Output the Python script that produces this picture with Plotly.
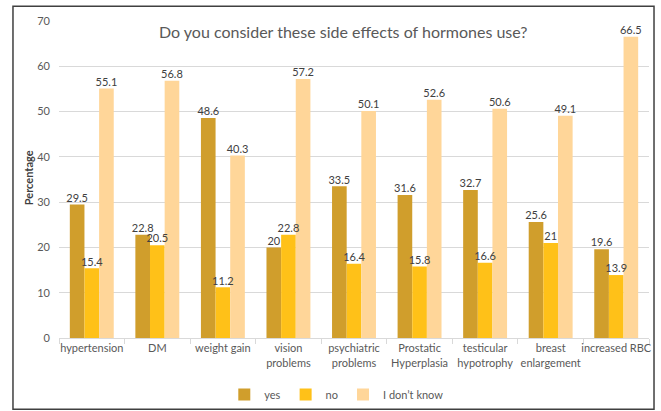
import plotly.graph_objects as go

categories = ["hypertension", "DM", "weight gain", "vision<br>problems", "psychiatric<br>problems",
              "Prostatic<br>Hyperplasia", "testicular<br>hypotrophy", "breast<br>enlargement", "increased RBC"]
yes_vals = [29.5, 22.8, 48.6, 20, 33.5, 31.6, 32.7, 25.6, 19.6]
no_vals = [15.4, 20.5, 11.2, 22.8, 16.4, 15.8, 16.6, 21, 13.9]
idk_vals = [55.1, 56.8, 40.3, 57.2, 50.1, 52.6, 50.6, 49.1, 66.5]
series_names = ["yes", "no", "I don\u2019t know"]
colors = ["#D09E2C", "#FFC118", "#FFD699"]

FONT = "Lato, 'Open Sans', sans-serif"
fig = go.Figure()
series = list(zip(series_names, [yes_vals, no_vals, idk_vals], colors))
for i, (name, vals, col) in enumerate(series):
    fig.add_trace(go.Bar(
        x=categories, y=vals, name=name, marker=dict(color=col, line=dict(width=0)),
        offsetgroup=str(i), hoverinfo="skip",
    ))
for i, (name, vals, col) in enumerate(series):
    fig.add_trace(go.Scatter(
        x=categories, y=vals, mode="text", text=[str(v) for v in vals],
        textposition="top center", offsetgroup=str(i), showlegend=False,
        textfont=dict(size=11, color="#404040", family=FONT), cliponaxis=False,
    ))

fig.update_layout(
    width=661, height=411,
    margin=dict(l=59, r=12, t=21, b=73, autoexpand=False),
    paper_bgcolor="white", plot_bgcolor="white",
    barmode="group", bargap=0.33, bargroupgap=0,
    scattermode="group", scattergap=0.33,
    font=dict(family=FONT, color="#595959", size=11),
    showlegend=True,
    legend=dict(orientation="h", x=0.47, xanchor="center", y=-0.178, yanchor="middle",
                font=dict(size=11, color="#595959"), itemwidth=30, tracegroupgap=0,
                bgcolor="rgba(0,0,0,0)"),
    yaxis=dict(range=[0, 70], dtick=10, showgrid=True, gridcolor="#D9D9D9", gridwidth=1,
               zeroline=False, showline=False, ticks="", tickfont=dict(size=11, color="#595959"),
               ticklabelstandoff=8),
    xaxis=dict(showline=True, linecolor="#D9D9D9", linewidth=1, ticks="outside",
               tickson="boundaries", ticklen=5, tickcolor="#D9D9D9", tickangle=0,
               tickfont=dict(size=11, color="#595959")),
)
fig.add_annotation(text="Do you consider these side effects of hormones use?", xref="paper", yref="paper",
                   x=0.482, y=0.9675, xanchor="center", yanchor="middle", showarrow=False,
                   font=dict(size=16, color="#595959", family=FONT))
fig.add_annotation(text="<b>Percentage</b>", xref="paper", yref="paper", x=-0.0525, y=0.504,
                   xanchor="center", yanchor="middle", textangle=-90, showarrow=False,
                   font=dict(size=11, color="#404040", family=FONT))
fig.add_shape(type="rect", xref="paper", yref="paper", x0=-0.078, x1=1.0085, y0=-0.225, y1=1.0464,
              line=dict(color="#404040", width=1.5), fillcolor="rgba(0,0,0,0)", layer="above")

fig.write_html("out.html", config={"displayModeBar": False},
               post_script="document.body.style.margin='0';")
